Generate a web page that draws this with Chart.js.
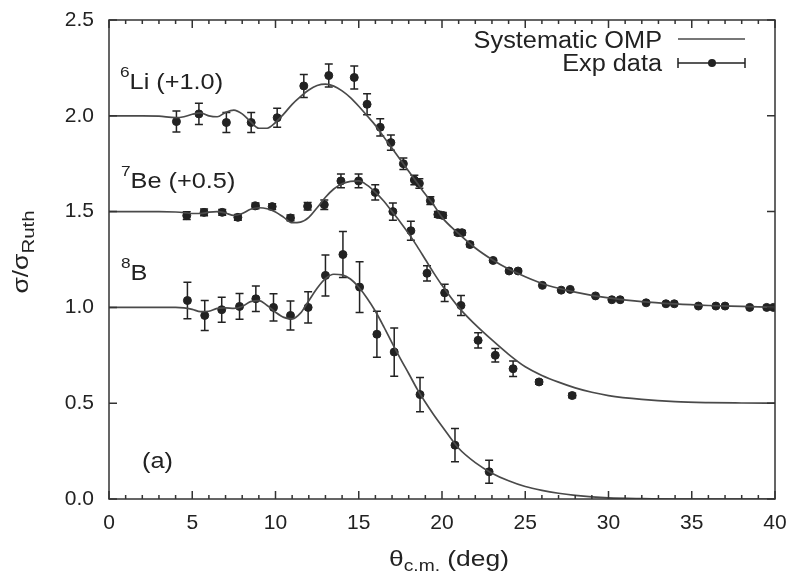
<!DOCTYPE html>
<html>
<head>
<meta charset="utf-8">
<script src="https://cdn.jsdelivr.net/npm/chart.js@4.4.1/dist/chart.umd.min.js"></script>
<style>
  html, body { margin: 0; padding: 0; background: #fff; }
  #wrap { width: 795px; height: 576px; }
</style>
</head>
<body>
<div id="wrap"><canvas id="chart" width="795" height="576"></canvas></div>
<script>
// axis ticks
const xTicks = [0, 5, 10, 15, 20, 25, 30, 35, 40];
const yTicks = [0, 0.5, 1.0, 1.5, 2.0, 2.5];

// 6Li data (shifted +1.0)
const liX = [4.05, 5.4, 7.05, 8.54, 10.1, 11.7, 13.2, 14.73, 15.5, 16.29, 16.93, 17.68, 18.34, 18.64, 19.3, 19.75, 20.05, 20.95, 21.2, 21.68, 23.07, 24.03, 24.57, 26.03, 27.16, 27.7, 29.22, 30.2, 30.7, 32.26, 33.45, 33.95, 35.4, 36.45, 37.0, 38.48, 39.5, 39.9];
const liY = [1.97, 2.01, 1.965, 1.965, 1.99, 2.156, 2.21, 2.2, 2.06, 1.94, 1.86, 1.75, 1.665, 1.647, 1.557, 1.485, 1.48, 1.39, 1.39, 1.328, 1.245, 1.19, 1.19, 1.115, 1.09, 1.094, 1.06, 1.04, 1.04, 1.024, 1.019, 1.019, 1.007, 1.007, 1.007, 1.0, 1.0, 1.0];
const liErr = [0.055, 0.055, 0.052, 0.052, 0.05, 0.06, 0.06, 0.06, 0.055, 0.045, 0.04, 0.03, 0.025, 0.025, 0.02, 0.015, 0.015, 0.012, 0.012, 0.012, 0.008, 0.008, 0.008, 0.006, 0.006, 0.006, 0.005, 0.005, 0.005, 0.004, 0.004, 0.004, 0.004, 0.004, 0.004, 0.004, 0.004, 0.004];

// 7Be data (shifted +0.5)
const beX = [4.67, 5.71, 6.8, 7.74, 8.8, 9.8, 10.9, 11.93, 12.93, 13.93, 14.99, 15.99, 17.05, 18.13, 19.1, 20.16, 21.14, 22.17, 23.2, 24.27, 25.83, 27.82];
const beY = [1.479, 1.496, 1.496, 1.47, 1.53, 1.526, 1.467, 1.528, 1.536, 1.66, 1.66, 1.6, 1.5, 1.40, 1.178, 1.076, 1.01, 0.828, 0.75, 0.68, 0.611, 0.54];
const beErr = [0.02, 0.018, 0.015, 0.015, 0.015, 0.015, 0.015, 0.02, 0.025, 0.036, 0.036, 0.04, 0.045, 0.05, 0.04, 0.045, 0.052, 0.04, 0.035, 0.04, 0.012, 0.012];

// 8B data
const bX = [4.71, 5.75, 6.77, 7.84, 8.82, 9.88, 10.9, 11.96, 13.0, 14.05, 15.05, 16.09, 17.13, 18.68, 20.78, 22.83];
const bY = [1.036, 0.958, 0.988, 1.005, 1.045, 1.0, 0.958, 1.0, 1.167, 1.276, 1.106, 0.86, 0.767, 0.545, 0.281, 0.142];
const bErr = [0.095, 0.078, 0.065, 0.067, 0.067, 0.071, 0.076, 0.082, 0.107, 0.12, 0.132, 0.12, 0.126, 0.089, 0.087, 0.06];

// systematic OMP curves
const curveX = [0, 1, 2, 3, 4, 4.5, 5, 5.5, 6, 6.5, 7, 7.5, 8, 8.5, 9, 9.5, 10, 10.5, 11, 11.5, 12, 12.5, 13, 13.5, 14, 14.5, 15, 15.5, 16, 16.5, 17, 17.5, 18, 18.5, 19, 19.5, 20, 21, 22, 23, 24, 25, 26, 27, 28, 29, 30, 32, 34, 36, 38, 40];
const liCurve = [2.0, 2.0, 2.0, 1.998, 1.99, 1.995, 2.008, 2.015, 2.0, 1.995, 2.018, 2.03, 2.01, 1.97, 1.935, 1.935, 1.965, 2.01, 2.06, 2.1, 2.135, 2.158, 2.165, 2.155, 2.13, 2.095, 2.05, 2.0, 1.95, 1.89, 1.83, 1.77, 1.71, 1.65, 1.59, 1.535, 1.47, 1.385, 1.31, 1.25, 1.2, 1.16, 1.125, 1.1, 1.08, 1.063, 1.05, 1.03, 1.018, 1.01, 1.005, 1.0];
const beCurve = [1.5, 1.5, 1.5, 1.5, 1.498, 1.495, 1.49, 1.49, 1.497, 1.5, 1.492, 1.48, 1.49, 1.512, 1.52, 1.515, 1.498, 1.47, 1.442, 1.445, 1.47, 1.52, 1.575, 1.618, 1.645, 1.658, 1.66, 1.638, 1.6, 1.555, 1.5, 1.445, 1.385, 1.32, 1.25, 1.18, 1.115, 1.0, 0.91, 0.83, 0.755, 0.69, 0.645, 0.61, 0.58, 0.557, 0.54, 0.52, 0.508, 0.503, 0.501, 0.5];
const bCurve = [1.0, 1.0, 1.0, 1.0, 1.0, 0.998, 0.99, 0.978, 0.98, 0.995, 0.998, 0.995, 1.005, 1.03, 1.035, 1.01, 0.975, 0.948, 0.94, 0.97, 1.035, 1.1, 1.15, 1.173, 1.17, 1.148, 1.105, 1.048, 0.98, 0.9, 0.815, 0.733, 0.655, 0.575, 0.505, 0.44, 0.38, 0.265, 0.19, 0.135, 0.095, 0.065, 0.045, 0.03, 0.019, 0.011, 0.006, 0.002, 0, 0, 0, 0];

const FONT = "'Liberation Sans', Arial, sans-serif";
const INK = '#222';
const CURVE = '#4a4a4a';
const STRETCH = 1.15; // the source figure is a bit wider than tall

function pts(xs, ys) {
  return xs.map((x, i) => ({ x: x, y: ys[i] }));
}

function curveSet(ys) {
  return {
    type: 'line',
    data: pts(curveX, ys),
    borderColor: CURVE,
    borderWidth: 1.7,
    pointRadius: 0,
    fill: false,
    cubicInterpolationMode: 'monotone'
  };
}

function markerSet(xs, ys, errs) {
  return {
    type: 'scatter',
    data: pts(xs, ys),
    errors: errs,
    backgroundColor: INK,
    borderColor: INK,
    pointRadius: 4,
    pointHoverRadius: 4
  };
}

function richWidth(ctx, parts, sx) {
  let w = 0;
  parts.forEach(p => {
    ctx.font = p.size + 'px ' + FONT;
    w += ctx.measureText(p.t).width;
  });
  return w * sx;
}

// text pieces with super/subscripts, drawn left to right, stretched by sx
function richText(ctx, parts, x, y, sx) {
  ctx.save();
  ctx.translate(x, y);
  ctx.scale(sx, 1);
  let cx = 0;
  parts.forEach(p => {
    ctx.font = p.size + 'px ' + FONT;
    ctx.fillText(p.t, cx, p.dy || 0);
    cx += ctx.measureText(p.t).width;
  });
  ctx.restore();
}

const errorBars = {
  id: 'errorBars',
  beforeDatasetsDraw(chart) {
    const ctx = chart.ctx, xs = chart.scales.x, ys = chart.scales.y;
    ctx.save();
    ctx.strokeStyle = INK;
    ctx.lineWidth = 1.5;
    chart.data.datasets.forEach(ds => {
      if (!ds.errors) return;
      ds.data.forEach((p, i) => {
        const e = ds.errors[i];
        const px = xs.getPixelForValue(p.x);
        const top = ys.getPixelForValue(p.y + e);
        const bot = ys.getPixelForValue(p.y - e);
        if (bot - top < 3) return;
        ctx.beginPath();
        ctx.moveTo(px, top); ctx.lineTo(px, bot);
        ctx.moveTo(px - 4, top); ctx.lineTo(px + 4, top);
        ctx.moveTo(px - 4, bot); ctx.lineTo(px + 4, bot);
        ctx.stroke();
      });
    });
    ctx.restore();
  }
};

const frameAndText = {
  id: 'frameAndText',
  afterDraw(chart) {
    const ctx = chart.ctx, a = chart.chartArea;
    const xs = chart.scales.x, ys = chart.scales.y;
    ctx.save();
    ctx.strokeStyle = '#333';
    ctx.lineWidth = 1.5;
    ctx.strokeRect(a.left, a.top, a.right - a.left, a.bottom - a.top);

    // inward ticks, gnuplot style
    ctx.beginPath();
    for (let v = 0; v <= 40; v += 1) {
      const px = xs.getPixelForValue(v);
      const len = v % 5 === 0 ? 8 : 4;
      ctx.moveTo(px, a.bottom); ctx.lineTo(px, a.bottom - len);
      ctx.moveTo(px, a.top); ctx.lineTo(px, a.top + len);
    }
    yTicks.forEach(v => {
      const py = ys.getPixelForValue(v);
      ctx.moveTo(a.left, py); ctx.lineTo(a.left + 8, py);
      ctx.moveTo(a.right, py); ctx.lineTo(a.right - 8, py);
    });
    ctx.stroke();

    ctx.fillStyle = INK;
    ctx.textBaseline = 'alphabetic';
    ctx.textAlign = 'left';

    // series labels
    richText(ctx, [{ t: '6', size: 15, dy: -12 }, { t: 'Li (+1.0)', size: 22 }], 120, 89, STRETCH);
    richText(ctx, [{ t: '7', size: 15, dy: -12 }, { t: 'Be (+0.5)', size: 22 }], 121, 188, STRETCH);
    richText(ctx, [{ t: '8', size: 15, dy: -12 }, { t: 'B', size: 22 }], 121, 280, STRETCH);
    richText(ctx, [{ t: '(a)', size: 22 }], 142, 468, STRETCH);

    // legend
    const l1 = [{ t: 'Systematic OMP', size: 23 }];
    const l2 = [{ t: 'Exp data', size: 23 }];
    richText(ctx, l1, 662 - richWidth(ctx, l1, 1.1), 48, 1.1);
    richText(ctx, l2, 662 - richWidth(ctx, l2, 1.1), 71, 1.1);
    ctx.strokeStyle = CURVE;
    ctx.lineWidth = 1.7;
    ctx.beginPath();
    ctx.moveTo(678, 39); ctx.lineTo(745, 39);
    ctx.stroke();
    ctx.strokeStyle = INK;
    ctx.lineWidth = 1.5;
    ctx.beginPath();
    ctx.moveTo(678, 63); ctx.lineTo(745, 63);
    ctx.moveTo(678, 58); ctx.lineTo(678, 68);
    ctx.moveTo(745, 58); ctx.lineTo(745, 68);
    ctx.stroke();
    ctx.beginPath();
    ctx.arc(712, 63, 4, 0, Math.PI * 2);
    ctx.fill();

    // x axis title
    const xt = [{ t: '\u03b8', size: 22 }, { t: 'c.m.', size: 16, dy: 5 }, { t: ' (deg)', size: 22 }];
    richText(ctx, xt, 449 - richWidth(ctx, xt, 1.2) / 2, 566, 1.2);

    // y axis title
    const yt = [{ t: '\u03c3/\u03c3', size: 22 }, { t: 'Ruth', size: 17, dy: 6 }];
    ctx.translate(28, 252);
    ctx.rotate(-Math.PI / 2);
    richText(ctx, yt, -richWidth(ctx, yt, 1.2) / 2, 0, 1.2);
    ctx.restore();
  }
};

new Chart(document.getElementById('chart'), {
  data: {
    datasets: [
      curveSet(liCurve),
      curveSet(beCurve),
      curveSet(bCurve),
      markerSet(liX, liY, liErr),
      markerSet(beX, beY, beErr),
      markerSet(bX, bY, bErr)
    ]
  },
  options: {
    responsive: false,
    animation: false,
    layout: { padding: { top: 20, right: 20, left: 0, bottom: 0 } },
    plugins: { legend: { display: false }, tooltip: { enabled: false } },
    scales: {
      x: {
        type: 'linear',
        min: 0, max: 40,
        afterBuildTicks: s => { s.ticks = xTicks.map(v => ({ value: v })); },
        afterFit: s => { s.height = 77; s.paddingLeft = 0; s.paddingRight = 0; },
        ticks: { font: { family: FONT, size: 21 }, color: INK, padding: 12, maxRotation: 0 },
        grid: { display: false, drawTicks: false },
        border: { display: false }
      },
      y: {
        type: 'linear',
        min: 0, max: 2.5,
        afterBuildTicks: s => { s.ticks = yTicks.map(v => ({ value: v })); },
        afterFit: s => { s.width = 109; s.paddingTop = 0; s.paddingBottom = 0; },
        ticks: { font: { family: FONT, size: 21 }, color: INK, padding: 15, callback: v => v.toFixed(1) },
        grid: { display: false, drawTicks: false },
        border: { display: false }
      }
    }
  },
  plugins: [errorBars, frameAndText]
});
</script>
</body>
</html>
